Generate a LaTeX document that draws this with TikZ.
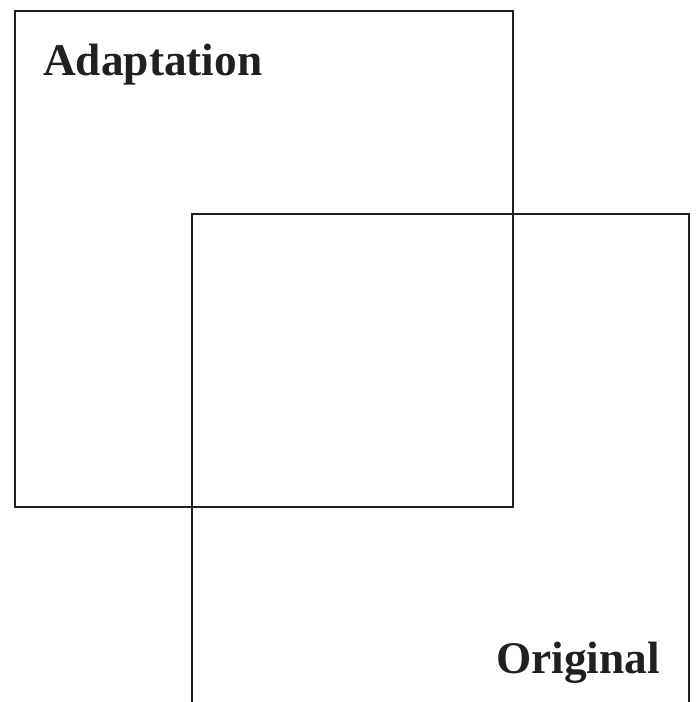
\documentclass[tikz,border=0pt]{standalone}
\usepackage{fontspec}
\setmainfont{Liberation Serif}
\usepackage{xcolor}
\definecolor{inkgray}{RGB}{35,31,32}
\usetikzlibrary{positioning}
\tikzset{
	frame/.style = {draw=inkgray,line width=2bp},
	title/.style = {inner sep=0pt,text=inkgray,font=\fontsize{45.5}{45.5}\selectfont\bfseries},
}

\begin{document}
\begin{tikzpicture}[x=1bp,y=-1bp]
	\useasboundingbox (0,0) rectangle (696,702);
	\draw[frame] (15,11) rectangle (513,507);
	\draw[frame] (192,720) |- (689,214) -- (689,720);
	
	\node (adapt) [title,anchor=base west] at (43,76) {Adaptation};
	\node (orig) [title,anchor=base east] at (660,673) {Original};
\end{tikzpicture}
\end{document}
